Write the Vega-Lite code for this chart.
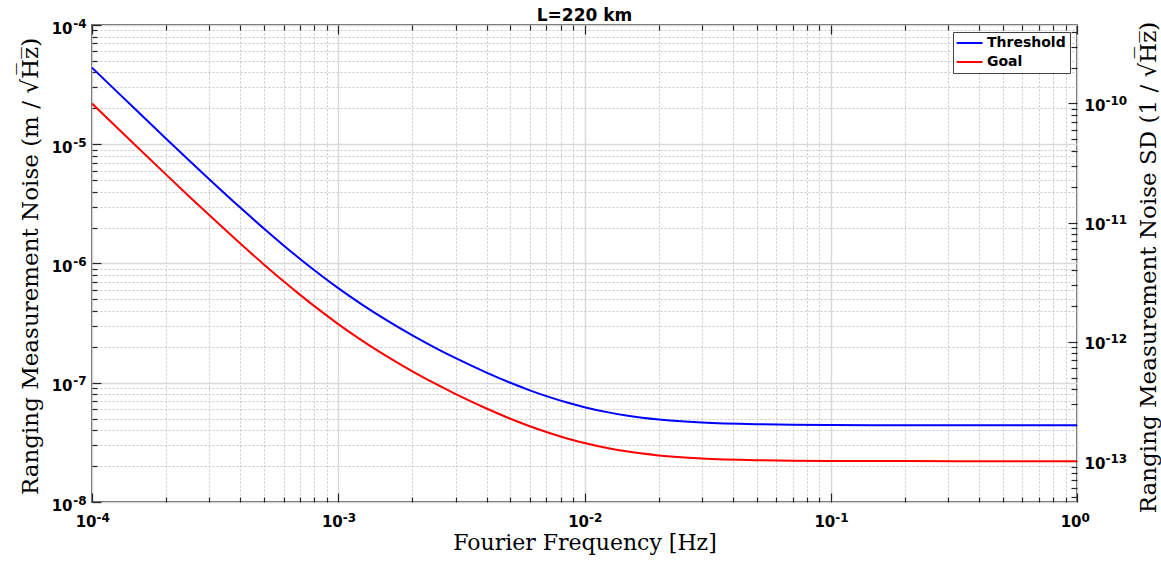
{
  "$schema": "https://vega.github.io/schema/vega-lite/v6.json",
  "width": 985,
  "height": 477,
  "autosize": {"type": "none"},
  "padding": {"left": 92, "top": 25, "right": 84, "bottom": 60},
  "background": "white",
  "title": {"text": "L=220 km", "fontSize": 17, "font": "DejaVu Sans", "fontWeight": "bold", "offset": -8, "color": "black", "anchor": "middle"},
  "data": {"values": [
    {"f": 0.0001, "noise": 4.388e-5, "series": "Threshold"},
    {"f": 0.000125, "noise": 2.816e-5, "series": "Threshold"},
    {"f": 0.00015, "noise": 1.962e-5, "series": "Threshold"},
    {"f": 0.0002, "noise": 1.113e-5, "series": "Threshold"},
    {"f": 0.00025, "noise": 7.2e-6, "series": "Threshold"},
    {"f": 0.0003, "noise": 5.07e-6, "series": "Threshold"},
    {"f": 0.0004, "noise": 2.942e-6, "series": "Threshold"},
    {"f": 0.0005, "noise": 1.956e-6, "series": "Threshold"},
    {"f": 0.0006, "noise": 1.418e-6, "series": "Threshold"},
    {"f": 0.0007, "noise": 1.091e-6, "series": "Threshold"},
    {"f": 0.00085, "noise": 7.97e-7, "series": "Threshold"},
    {"f": 0.001, "noise": 6.21e-7, "series": "Threshold"},
    {"f": 0.00125, "noise": 4.515e-7, "series": "Threshold"},
    {"f": 0.0015, "noise": 3.545e-7, "series": "Threshold"},
    {"f": 0.002, "noise": 2.495e-7, "series": "Threshold"},
    {"f": 0.0025, "noise": 1.944e-7, "series": "Threshold"},
    {"f": 0.003, "noise": 1.606e-7, "series": "Threshold"},
    {"f": 0.004, "noise": 1.216e-7, "series": "Threshold"},
    {"f": 0.005, "noise": 9.99e-8, "series": "Threshold"},
    {"f": 0.006, "noise": 8.64e-8, "series": "Threshold"},
    {"f": 0.007, "noise": 7.72e-8, "series": "Threshold"},
    {"f": 0.0085, "noise": 6.82e-8, "series": "Threshold"},
    {"f": 0.01, "noise": 6.24e-8, "series": "Threshold"},
    {"f": 0.0125, "noise": 5.642e-8, "series": "Threshold"},
    {"f": 0.015, "noise": 5.292e-8, "series": "Threshold"},
    {"f": 0.02, "noise": 4.92e-8, "series": "Threshold"},
    {"f": 0.03, "noise": 4.638e-8, "series": "Threshold"},
    {"f": 0.05, "noise": 4.487e-8, "series": "Threshold"},
    {"f": 0.07, "noise": 4.445e-8, "series": "Threshold"},
    {"f": 0.1, "noise": 4.422e-8, "series": "Threshold"},
    {"f": 0.2, "noise": 4.4055e-8, "series": "Threshold"},
    {"f": 0.5, "noise": 4.401e-8, "series": "Threshold"},
    {"f": 1, "noise": 4.40e-8, "series": "Threshold"},
    {"f": 0.0001, "noise": 2.194e-5, "series": "Goal"},
    {"f": 0.000125, "noise": 1.408e-5, "series": "Goal"},
    {"f": 0.00015, "noise": 9.81e-6, "series": "Goal"},
    {"f": 0.0002, "noise": 5.565e-6, "series": "Goal"},
    {"f": 0.00025, "noise": 3.6e-6, "series": "Goal"},
    {"f": 0.0003, "noise": 2.535e-6, "series": "Goal"},
    {"f": 0.0004, "noise": 1.471e-6, "series": "Goal"},
    {"f": 0.0005, "noise": 9.78e-7, "series": "Goal"},
    {"f": 0.0006, "noise": 7.09e-7, "series": "Goal"},
    {"f": 0.0007, "noise": 5.455e-7, "series": "Goal"},
    {"f": 0.00085, "noise": 3.985e-7, "series": "Goal"},
    {"f": 0.001, "noise": 3.105e-7, "series": "Goal"},
    {"f": 0.00125, "noise": 2.258e-7, "series": "Goal"},
    {"f": 0.0015, "noise": 1.773e-7, "series": "Goal"},
    {"f": 0.002, "noise": 1.248e-7, "series": "Goal"},
    {"f": 0.0025, "noise": 9.72e-8, "series": "Goal"},
    {"f": 0.003, "noise": 8.03e-8, "series": "Goal"},
    {"f": 0.004, "noise": 6.08e-8, "series": "Goal"},
    {"f": 0.005, "noise": 4.995e-8, "series": "Goal"},
    {"f": 0.006, "noise": 4.32e-8, "series": "Goal"},
    {"f": 0.007, "noise": 3.86e-8, "series": "Goal"},
    {"f": 0.0085, "noise": 3.41e-8, "series": "Goal"},
    {"f": 0.01, "noise": 3.12e-8, "series": "Goal"},
    {"f": 0.0125, "noise": 2.821e-8, "series": "Goal"},
    {"f": 0.015, "noise": 2.646e-8, "series": "Goal"},
    {"f": 0.02, "noise": 2.46e-8, "series": "Goal"},
    {"f": 0.03, "noise": 2.319e-8, "series": "Goal"},
    {"f": 0.05, "noise": 2.2435e-8, "series": "Goal"},
    {"f": 0.07, "noise": 2.2225e-8, "series": "Goal"},
    {"f": 0.1, "noise": 2.211e-8, "series": "Goal"},
    {"f": 0.2, "noise": 2.2028e-8, "series": "Goal"},
    {"f": 0.5, "noise": 2.2005e-8, "series": "Goal"},
    {"f": 1, "noise": 2.2e-8, "series": "Goal"}
  ]},
  "config": {
    "view": {"stroke": "#262626", "strokeWidth": 1.5},
    "axis": {
      "domain": false,
      "labelFont": "DejaVu Sans",
      "labelFontWeight": "bold",
      "labelFontSize": 15,
      "labelColor": "black",
      "titleFont": "DejaVu Serif",
      "titleFontWeight": "normal",
      "titleFontSize": 22,
      "titleColor": "black",
      "tickColor": "#262626",
      "tickWidth": 1.2,
      "labelFlush": false,
      "labelOverlap": false,
      "minExtent": 0,
      "maxExtent": 0
    }
  },
  "resolve": {
    "scale": {"y": "independent"},
    "axis": {"x": "independent", "y": "independent"}
  },
  "layer": [
    {
      "mark": {"type": "line", "opacity": 0, "clip": true},
      "encoding": {
        "x": {"field": "f", "type": "quantitative",
          "scale": {"type": "log", "domain": [0.0001, 1], "nice": false},
          "axis": {"orient": "bottom", "values": [0.0002,0.0003,0.0004,0.0005,0.0006,0.0007,0.0008,0.0009,0.002,0.003,0.004,0.005,0.006,0.007,0.008,0.009,0.02,0.03,0.04,0.05,0.06,0.07,0.08,0.09,0.2,0.3,0.4,0.5,0.6,0.7,0.8,0.9],
            "labels": false, "title": null, "tickSize": -5, "grid": true, "gridColor": "#c8c8c8", "gridDash": [2, 2], "gridWidth": 1}},
        "y": {"field": "noise", "type": "quantitative",
          "scale": {"type": "log", "domain": [1e-8, 0.0001], "nice": false},
          "axis": {"orient": "left", "values": [2e-8,3e-8,4e-8,5e-8,6e-8,7e-8,8e-8,9e-8,2e-7,3e-7,4e-7,5e-7,6e-7,7e-7,8e-7,9e-7,2e-6,3e-6,4e-6,5e-6,6e-6,7e-6,8e-6,9e-6,2e-5,3e-5,4e-5,5e-5,6e-5,7e-5,8e-5,9e-5],
            "labels": false, "title": null, "tickSize": -5, "grid": true, "gridColor": "#c8c8c8", "gridDash": [2, 2], "gridWidth": 1}},
        "detail": {"field": "series", "type": "nominal"}
      }
    },
    {
      "mark": {"type": "line", "strokeWidth": 2, "clip": true, "interpolate": "monotone"},
      "encoding": {
        "x": {"field": "f", "type": "quantitative",
          "scale": {"type": "log", "domain": [0.0001, 1], "nice": false},
          "axis": {"orient": "bottom", "values": [0.0001, 0.001, 0.01, 0.1, 1],
            "labelExpr": "'10'", "labelAlign": "right", "labelOffset": 4, "labelBaseline": "alphabetic",
            "title": "Fourier Frequency [Hz]", "titleY": 47, "titleBaseline": "alphabetic",
            "tickSize": -9, "labelPadding": 33, "grid": true, "gridColor": "#d9d9d9", "gridWidth": 1.5}},
        "y": {"field": "noise", "type": "quantitative",
          "scale": {"type": "log", "domain": [1e-8, 0.0001], "nice": false},
          "axis": {"orient": "left", "values": [1e-8, 1e-7, 1e-6, 1e-5, 0.0001],
            "labelExpr": "'10'", "labelAlign": "right", "labelBaseline": "alphabetic", "labelOffset": 8,
            "title": "Ranging Measurement Noise (m / √H̅z̅)", "titleFontSize": 23, "titleX": -62, "titleY": 241, "titleAngle": -90, "titleBaseline": "middle", "titleAlign": "center",
            "tickSize": -9, "labelPadding": 29, "grid": true, "gridColor": "#d9d9d9", "gridWidth": 1.5}},
        "color": {"field": "series", "type": "nominal",
          "scale": {"domain": ["Threshold", "Goal"], "range": ["#0000ff", "#ff0000"]},
          "legend": {"title": null, "orient": "top-right", "offset": 7, "padding": 4, "strokeColor": "#444444", "fillColor": "white",
            "symbolType": "M-2.1,0H5.3", "symbolSize": 49, "symbolStrokeWidth": 2, "labelFont": "DejaVu Sans", "labelFontWeight": "bold", "labelFontSize": 14, "labelColor": "black", "rowPadding": 5, "labelOffset": 16}}
      }
    },
    {
      "mark": {"type": "line", "opacity": 0, "clip": true},
      "encoding": {
        "x": {"field": "f", "type": "quantitative",
          "scale": {"type": "log", "domain": [0.0001, 1], "nice": false},
          "axis": {"orient": "bottom", "values": [0.0001, 0.001, 0.01, 0.1, 1],
            "labelExpr": "['0','-1','-2','-3','-4','-5','-6','-7','-8','-9','-10','-11','-12','-13','-14'][-round(log(datum.value)/LN10)]",
            "labelAlign": "left", "labelOffset": 4, "labelBaseline": "alphabetic", "labelFontSize": 12,
            "ticks": false, "labelPadding": 19, "title": null, "grid": false}},
        "y": {"field": "noise", "type": "quantitative",
          "scale": {"type": "log", "domain": [1e-8, 0.0001], "nice": false},
          "axis": {"orient": "left", "values": [1e-8, 1e-7, 1e-6, 1e-5, 0.0001],
            "labelExpr": "['0','-1','-2','-3','-4','-5','-6','-7','-8','-9','-10','-11','-12','-13','-14'][-round(log(datum.value)/LN10)]",
            "labelAlign": "right", "labelBaseline": "alphabetic", "labelOffset": 2, "labelFontSize": 12,
            "ticks": false, "labelPadding": 6, "title": null, "grid": false}},
        "detail": {"field": "series", "type": "nominal"}
      }
    },
    {
      "mark": {"type": "line", "opacity": 0, "clip": true},
      "encoding": {
        "x": {"field": "f", "type": "quantitative",
          "scale": {"type": "log", "domain": [0.0001, 1], "nice": false},
          "axis": {"orient": "top", "values": [0.0001, 0.001, 0.01, 0.1, 1], "labels": false, "title": null, "tickSize": -9, "grid": false}},
        "y": {"field": "noise", "type": "quantitative",
          "scale": {"type": "log", "domain": [4.545e-14, 4.545e-10], "nice": false},
          "axis": {"orient": "right", "values": [1e-13, 1e-12, 1e-11, 1e-10],
            "labelExpr": "'10'", "labelAlign": "left", "labelBaseline": "alphabetic", "labelOffset": 7,
            "title": "Ranging Measurement Noise SD (1 / √H̅z̅)", "titleFontSize": 23, "titleX": 71, "titleY": 242, "titleAngle": -90, "titleBaseline": "middle", "titleAlign": "center",
            "tickSize": -9, "labelPadding": 16, "grid": false}},
        "detail": {"field": "series", "type": "nominal"}
      }
    },
    {
      "mark": {"type": "line", "opacity": 0, "clip": true},
      "encoding": {
        "x": {"field": "f", "type": "quantitative",
          "scale": {"type": "log", "domain": [0.0001, 1], "nice": false},
          "axis": {"orient": "top", "values": [0.0002,0.0003,0.0004,0.0005,0.0006,0.0007,0.0008,0.0009,0.002,0.003,0.004,0.005,0.006,0.007,0.008,0.009,0.02,0.03,0.04,0.05,0.06,0.07,0.08,0.09,0.2,0.3,0.4,0.5,0.6,0.7,0.8,0.9],
            "labels": false, "title": null, "tickSize": -5, "grid": false}},
        "y": {"field": "noise", "type": "quantitative",
          "scale": {"type": "log", "domain": [4.545e-14, 4.545e-10], "nice": false},
          "axis": {"orient": "right", "values": [5e-14,6e-14,7e-14,8e-14,9e-14,2e-13,3e-13,4e-13,5e-13,6e-13,7e-13,8e-13,9e-13,2e-12,3e-12,4e-12,5e-12,6e-12,7e-12,8e-12,9e-12,2e-11,3e-11,4e-11,5e-11,6e-11,7e-11,8e-11,9e-11,2e-10,3e-10,4e-10],
            "labels": false, "title": null, "tickSize": -6, "grid": false}},
        "detail": {"field": "series", "type": "nominal"}
      }
    },
    {
      "mark": {"type": "line", "opacity": 0, "clip": true},
      "encoding": {
        "x": {"field": "f", "type": "quantitative",
          "scale": {"type": "log", "domain": [0.0001, 1], "nice": false},
          "axis": null},
        "y": {"field": "noise", "type": "quantitative",
          "scale": {"type": "log", "domain": [4.545e-14, 4.545e-10], "nice": false},
          "axis": {"orient": "right", "values": [1e-13, 1e-12, 1e-11, 1e-10],
            "labelExpr": "['0','-1','-2','-3','-4','-5','-6','-7','-8','-9','-10','-11','-12','-13','-14'][-round(log(datum.value)/LN10)]",
            "labelAlign": "left", "labelBaseline": "alphabetic", "labelOffset": 1, "labelFontSize": 12,
            "ticks": false, "labelPadding": 28, "title": null, "grid": false}},
        "detail": {"field": "series", "type": "nominal"}
      }
    }
  ]
}
